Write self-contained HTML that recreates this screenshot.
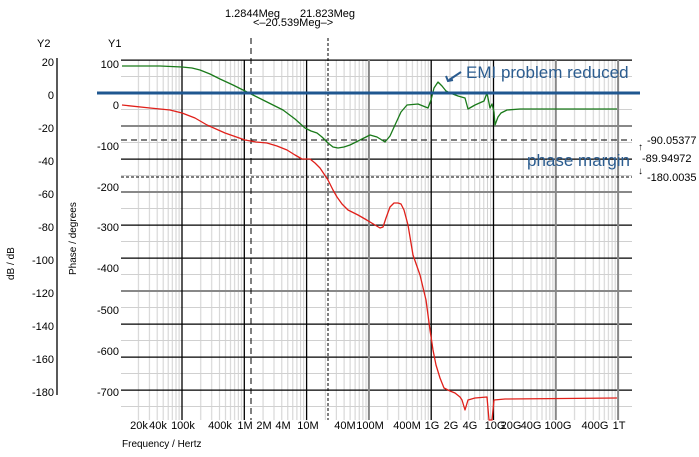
<!DOCTYPE html>
<html><head><meta charset="utf-8"><style>
body{margin:0;background:#fff}
svg{display:block;font-family:"Liberation Sans",sans-serif}
</style></head><body>
<svg width="699" height="457" viewBox="0 0 699 457" xmlns="http://www.w3.org/2000/svg">
<defs>
<pattern id="vg" patternUnits="userSpaceOnUse" x="119.7" y="0" width="62.3" height="457">
<g stroke="#d0d0d0" stroke-width="1">
<line x1="18.75" y1="0" x2="18.75" y2="457"/><line x1="29.7" y1="0" x2="29.7" y2="457"/>
<line x1="37.5" y1="0" x2="37.5" y2="457"/><line x1="43.5" y1="0" x2="43.5" y2="457"/>
<line x1="48.5" y1="0" x2="48.5" y2="457"/><line x1="52.6" y1="0" x2="52.6" y2="457"/>
<line x1="56.3" y1="0" x2="56.3" y2="457"/><line x1="59.4" y1="0" x2="59.4" y2="457"/>
</g>
</pattern>
<pattern id="hg" patternUnits="userSpaceOnUse" x="0" y="59.5" width="699" height="33">
<line x1="0" y1="0.6" x2="699" y2="0.6" stroke="#000" stroke-width="1.2"/>
<line x1="0" y1="17" x2="699" y2="17" stroke="#d0d0d0" stroke-width="1"/>
</pattern>
</defs>
<rect width="699" height="457" fill="#fff"/>
<rect x="121" y="60" width="511" height="360" fill="url(#vg)"/>
<rect x="121" y="59" width="511" height="362" fill="url(#hg)"/>
<g stroke="#888" stroke-width="2">
<line x1="121" y1="126" x2="632" y2="126"/><line x1="121" y1="192" x2="632" y2="192"/><line x1="121" y1="291" x2="632" y2="291"/>
<line x1="368.9" y1="60" x2="368.9" y2="420"/><line x1="555.8" y1="60" x2="555.8" y2="420"/><line x1="618.1" y1="60" x2="618.1" y2="420"/>
</g>
<g stroke="#000" stroke-width="1.3">
<line x1="182" y1="60" x2="182" y2="420"/><line x1="244.3" y1="60" x2="244.3" y2="420"/><line x1="306.6" y1="60" x2="306.6" y2="420"/>
<line x1="431.2" y1="60" x2="431.2" y2="420"/><line x1="493.5" y1="60" x2="493.5" y2="420"/>
</g>
<!-- dashed markers -->
<line x1="251" y1="38" x2="251" y2="420" stroke="#000" stroke-dasharray="6,4"/>
<line x1="328" y1="38" x2="328" y2="420" stroke="#000" stroke-dasharray="3,2"/>
<line x1="121" y1="140" x2="632" y2="140" stroke="#000" stroke-dasharray="6,4"/>
<line x1="121" y1="177" x2="632" y2="177" stroke="#000" stroke-dasharray="3,2"/>
<!-- axis -->
<line x1="57" y1="58" x2="57" y2="395" stroke="#000" stroke-width="1.3"/>
<!-- curves -->
<polyline fill="none" stroke="#1a7a1a" stroke-width="1.3" stroke-linejoin="round" points="122,66 160,66 182,67 192,68 200,70 210,74 220,79 233,85 247,92 265,101 283,110 295,119 305,128 311,131 317,133 322,137 328,143 333,147 338,148 344,147 350,145 360,140 370,135 377,137 385,142 390,136 395,125 401,112 407,105 418,104 428,108 431,100 434,88 438,82 442,86 446,91 450,93 458,96 465,98 468,109 475,105 484,101 487,93 490,108 492,104 494,112 495,125 498,117 501,113 507,110 520,109 617,109"/>
<polyline fill="none" stroke="#e0201a" stroke-width="1.3" stroke-linejoin="round" points="122,105 150,108 170,110 182,113 195,118 207,125 225,133 245,140 256,142 267,143 277,146 287,150 295,155 302,159 310,159 315,163 320,168 328,180 333,190 337,197 342,204 348,210 358,215 365,219 375,225 380,228 383,227 386,218 390,207 394,203 398,203 401,204 404,210 408,225 413,255 420,275 426,300 430,330 433,350 436,365 440,378 444,388 450,391 455,393 460,397 462,400 465,410 468,400 475,398 487,397 489,420 492,420 494,400 505,399 617,398"/>
<!-- blue line -->
<line x1="97" y1="93" x2="640" y2="93" stroke="#1f5790" stroke-width="3"/>
<text x="466" y="78" font-size="17" fill="#2b5c8f">EMI problem reduced</text>
<line x1="461" y1="72" x2="449" y2="80" stroke="#2b5c8f" stroke-width="2"/>
<polyline points="446,76 448,81 453,80" fill="none" stroke="#2b5c8f" stroke-width="2"/>
<text x="527" y="166" font-size="17" fill="#2b5c8f">phase margin</text>
<g font-size="11" fill="#000">
<text x="647" y="144">-90.05377</text>
<text x="642" y="162">-89.94972</text>
<text x="647" y="181">-180.0035</text>
<text x="638" y="150" font-size="10">↑</text>
<text x="638" y="174" font-size="10">↓</text>
<text x="225" y="17">1.2844Meg</text>
<text x="300" y="17">21.823Meg</text>
<text x="253" y="26">&lt;–20.539Meg–&gt;</text>
<text x="37" y="47">Y2</text>
<text x="108" y="47">Y1</text>
<g text-anchor="end">
<text x="54" y="66">20</text><text x="54" y="99">0</text><text x="54" y="132">-20</text><text x="54" y="165">-40</text><text x="54" y="198">-60</text><text x="54" y="231">-80</text><text x="54" y="264">-100</text><text x="54" y="297">-120</text><text x="54" y="330">-140</text><text x="54" y="363">-160</text><text x="54" y="396">-180</text>
<text x="119" y="68">100</text><text x="119" y="109">0</text><text x="119" y="150">-100</text><text x="119" y="191">-200</text><text x="119" y="231">-300</text><text x="119" y="272">-400</text><text x="119" y="314">-500</text><text x="119" y="355">-600</text><text x="119" y="396">-700</text>
</g>
<g text-anchor="middle">
<text x="139" y="429">20k</text><text x="158" y="429">40k</text><text x="183" y="429">100k</text><text x="220" y="429">400k</text><text x="245" y="429">1M</text><text x="264" y="429">2M</text><text x="283" y="429">4M</text><text x="308" y="429">10M</text><text x="345" y="429">40M</text><text x="370" y="429">100M</text><text x="407" y="429">400M</text><text x="432" y="429">1G</text><text x="451" y="429">2G</text><text x="470" y="429">4G</text><text x="495" y="429">10G</text><text x="511" y="429">20G</text><text x="531" y="429">40G</text><text x="558" y="429">100G</text><text x="595" y="429">400G</text><text x="619" y="429">1T</text>
</g>
<text x="122" y="447" font-size="10">Frequency / Hertz</text>
<text transform="translate(14,280) rotate(-90)" font-size="10">dB / dB</text>
<text transform="translate(76,275) rotate(-90)" font-size="10">Phase / degrees</text>
</g>
</svg>
</body></html>
